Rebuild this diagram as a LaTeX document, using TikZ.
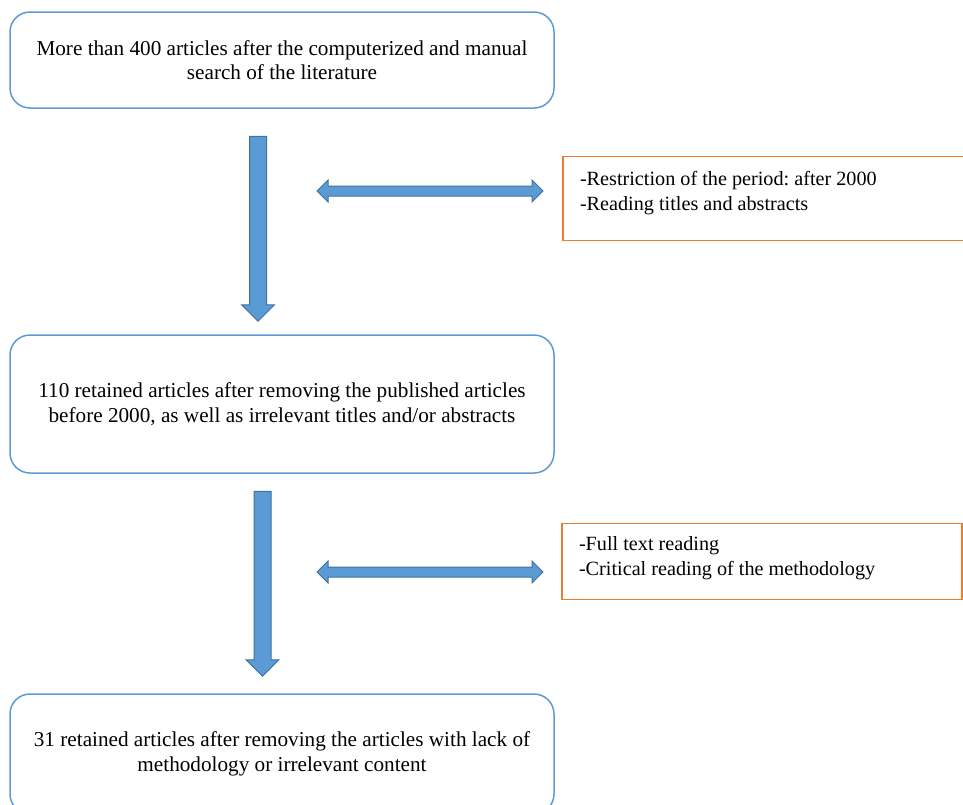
\documentclass[tikz,border=0pt]{standalone}
\usepackage{fontspec}
\setmainfont{Liberation Serif}
\usetikzlibrary{shapes.arrows}
\frenchspacing
\definecolor{boxblue}{HTML}{5B9BD5}
\definecolor{arrowblue}{HTML}{5B9BD5}
\definecolor{arrowedge}{HTML}{41719C}
\definecolor{boxorange}{HTML}{ED7D31}
\tikzset{
	stagebox/.style={draw=boxblue, line width=1.5pt, rounded corners=20pt, minimum width=544pt, align=center, font=\fontsize{21.2}{24.5}\selectfont},
	notebox/.style={draw=boxorange, line width=1.5pt, align=flush left, inner xsep=17pt, font=\fontsize{20.2}{25}\selectfont},
	downarrow/.style={single arrow, shape border rotate=270, fill=arrowblue, draw=arrowedge, line width=1pt, inner sep=8pt, single arrow head extend=8pt, minimum height=185pt},
	linkarrow/.style={double arrow, fill=arrowblue, draw=arrowedge, line width=1pt, inner sep=4.5pt, double arrow head extend=6pt, minimum height=226pt}
}
\begin{document}
\begin{tikzpicture}[x=1pt, y=-1pt]
		\useasboundingbox (0,0) rectangle (963,804);
		\node[stagebox, minimum height=96pt] (search) at (282,60) {More than 400 articles after the computerized and manual\\search of the literature};
		\node[stagebox, minimum height=138pt] (screened) at (282,404) {110 retained articles after removing the published articles\\before 2000, as well as irrelevant titles and/or abstracts};
		\node[stagebox, minimum height=120pt] (retained) at (282,754) {31 retained articles after removing the articles with lack of\\methodology or irrelevant content};
		\node[notebox, text width=373pt, inner ysep=15pt] (criteria) at (766.5,198.5) {-Restriction of the period: after 2000\\-Reading titles and abstracts\rule[-15pt]{0pt}{15pt}};
		\node[notebox, text width=366pt, inner ysep=13pt] (reading) at (762,561.5) {-Full text reading\\-Critical reading of the methodology\rule[-11pt]{0pt}{11pt}};
		\node[downarrow] (down-1) at (258,224.5) {};
		\node[downarrow] (down-2) at (262.5,579.5) {};
		\node[linkarrow] (link-1) at (430,191) {};
		\node[linkarrow] (link-2) at (430,572) {};
	\end{tikzpicture}
\end{document}
